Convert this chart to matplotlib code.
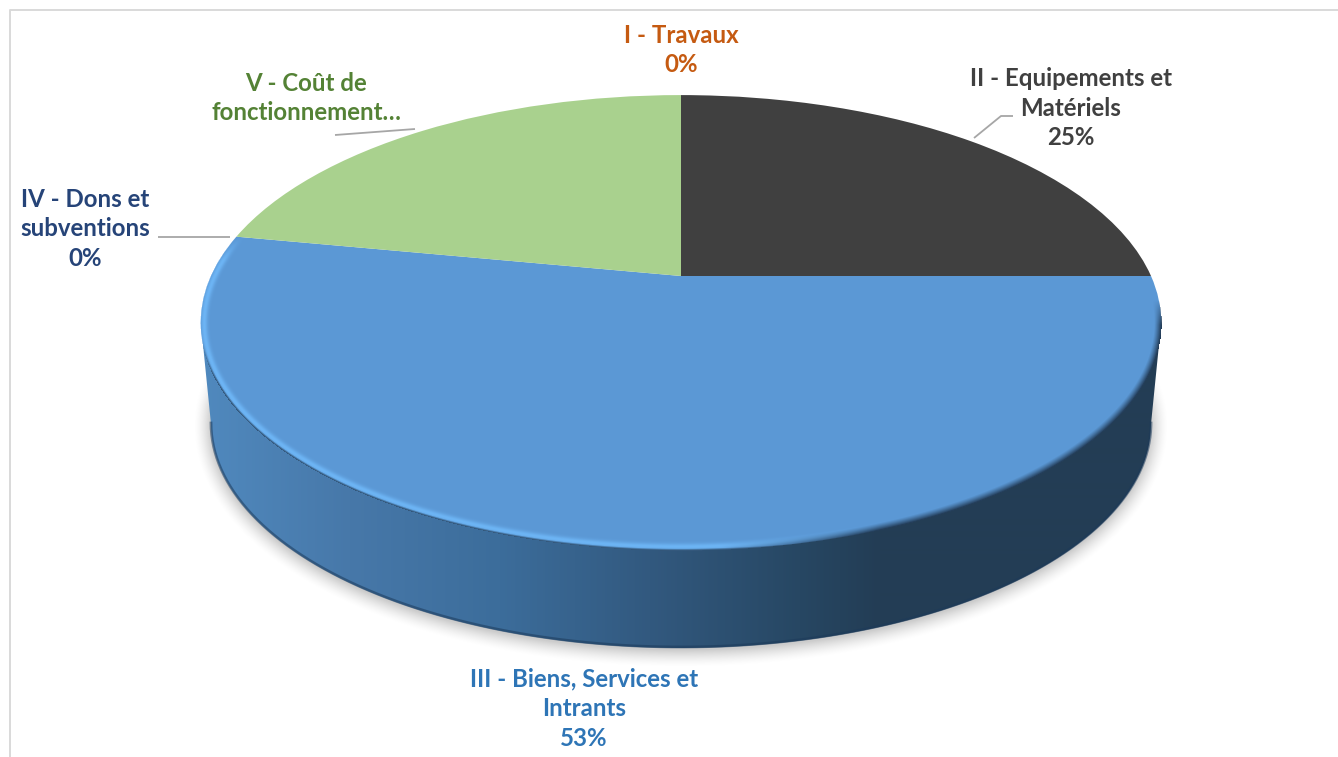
import numpy as np
import matplotlib
matplotlib.use("Agg")
import matplotlib.pyplot as plt
from matplotlib.patches import Polygon
from matplotlib.transforms import Transform

# ---------- data ----------
categories = ["I - Travaux", "II - Equipements et\nMatériels", "III - Biens, Services et\nIntrants",
              "IV - Dons et\nsubventions", "V - Coût de\nfonctionnement…"]
shares = [0, 25, 53, 0, 22]
show_percent = [True, True, True, True, False]
slice_colors = ["#C55A11", "#404040", "#5B98D5", "#264478", "#A9D18E"]
text_colors = ["#C55A11", "#404040", "#2E75B6", "#264478", "#548235"]

# ---------- layout ----------
W, H = 1338, 757
APEX_X, APEX_Y = 681.0, 276.0   # where the slices meet on screen
SCALE_X, SCALE_Y, TILT = 470.0, 218.0, 0.205
BASE_X, BASE_Y, BASE_RX, BASE_RY = 681.0, 424.0, 470.0, 224.0  # lower rim of the disc
label_xy = [(681, 50), (1071, 108), (584, 709), (85, 229), (306, 98)]
leaders = [([974, 1001, 1013], [138, 116, 116]),
           ([335, 415], [135, 129]),
           ([158, 230], [237, 237])]
wall_stops_x = [203, 350, 500, 650, 800, 880, 1165]
wall_stops_rgb = [(80, 137, 190), (71, 120, 169), (60, 109, 155), (50, 89, 127),
                  (39, 71, 99), (35, 61, 85), (36, 62, 85)]


class Tilted(Transform):
    """Projects the unit-circle pie onto the tilted disc, in pixel coordinates."""
    input_dims = output_dims = 2
    is_separable = False

    def transform_non_affine(self, xy):
        xy = np.asarray(xy, float)
        w = 1 + TILT * xy[:, 1]
        return np.column_stack([APEX_X + SCALE_X * xy[:, 0] / w,
                                APEX_Y - SCALE_Y * xy[:, 1] / w])


tilted = Tilted()
top_rx = SCALE_X / np.sqrt(1 - TILT ** 2)
top_ry = SCALE_Y * (1 / (1 + TILT) + 1 / (1 - TILT)) / 2
top_y = APEX_Y - SCALE_Y * (1 / (1 + TILT) - 1 / (1 - TILT)) / 2
top_x = APEX_X

plt.rcParams["font.family"] = ["Lato", "DejaVu Sans"]
fig = plt.figure(figsize=(W / 100, H / 100), dpi=100, facecolor="white")
ax = fig.add_axes([0, 0, 1, 1])

# slices
wedges, _ = ax.pie(shares, colors=slice_colors, startangle=90, counterclock=False,
                   wedgeprops=dict(linewidth=0, zorder=4))
for wd in wedges:
    wd.set_transform(tilted + ax.transData)

# pixel grid for soft effects
yy, xx = np.mgrid[0:H, 0:W] + 0.5


def signed_dist(cx, cy, rx, ry):
    dx, dy = xx - cx, yy - cy
    r = np.sqrt((dx / rx) ** 2 + (dy / ry) ** 2) + 1e-9
    g = np.sqrt((dx / rx ** 2) ** 2 + (dy / ry ** 2) ** 2) / r + 1e-9
    return (r - 1) / g   # positive outside


# soft shadow below the disc
d_out = signed_dist(BASE_X, BASE_Y + 2, BASE_RX, BASE_RY)
sh = np.clip(1 - d_out / 18, 0, 1) ** 1.6 * np.clip((yy - 335) / 70, 0, 1) * 0.2
shadow = np.zeros((H, W, 4))
shadow[..., 3] = sh
ax.imshow(shadow, extent=(0, W, H, 0), aspect="auto", zorder=1, interpolation="bilinear")

# side wall with its horizontal gradient
xs = np.arange(W) + 0.5
wall = np.stack([np.interp(xs, wall_stops_x, [c[i] for c in wall_stops_rgb]) / 255
                 for i in range(3)], axis=-1)[None, :, :]
wall_im = ax.imshow(wall, extent=(0, W, H, 0), aspect="auto", zorder=2, interpolation="bilinear")
t = np.linspace(np.pi, 0, 240)
bx = BASE_X + BASE_RX * np.cos(t)
by = BASE_Y + BASE_RY * np.sin(t)
outline = np.column_stack([np.r_[top_x - top_rx, bx, top_x + top_rx],
                           np.r_[top_y, by, top_y]])
clip = Polygon(outline, closed=True, transform=ax.transData, facecolor="none", edgecolor="none")
ax.add_patch(clip)
wall_im.set_clip_path(clip)
ax.plot(bx, by - 1, color="#1C3A5A", lw=2, alpha=0.55, zorder=3)

# bevel along the front rim of the disc
d_in = -signed_dist(top_x, top_y, top_rx, top_ry)
cum = np.cumsum(shares) / np.sum(shares) * 2 * np.pi
p = tilted.transform(np.array([[np.sin(cum[1]), np.cos(cum[1])],
                               [np.sin(cum[2]), np.cos(cum[2])]]))
edge_y = np.where(xx > APEX_X,
                  APEX_Y + (xx - APEX_X) * (p[0, 1] - APEX_Y) / (p[0, 0] - APEX_X),
                  APEX_Y + (xx - APEX_X) * (p[1, 1] - APEX_Y) / (p[1, 0] - APEX_X))
front = (yy >= edge_y) & (d_in >= -0.5)
mix = np.clip((880 - xx) / 160, 0, 1)
fade_top = np.clip((yy - edge_y) / 25, 0, 1)
light = np.exp(-((d_in - 3.5) / 3.2) ** 2) * mix * fade_top
dark = np.clip(1 - d_in / 7, 0, 1) ** 1.2 * (1 - mix) * np.clip((yy - 300) / 25, 0, 1)
dark_edge = np.clip(1 - d_in / 1.8, 0, 1) * mix * np.clip((yy - 340) / 40, 0, 1) * 0.8
rim = np.zeros((H, W, 4))
a_light, a_dark = light * 0.95, np.maximum(dark, dark_edge)
total = np.maximum(a_light + a_dark, 1e-6)
for i, (cl, cd) in enumerate(zip((110, 182, 246), (36, 62, 90))):
    rim[..., i] = (cl * a_light + cd * a_dark) / total / 255
rim[..., 3] = np.clip(total, 0, 1) * front
ax.imshow(rim, extent=(0, W, H, 0), aspect="auto", zorder=5, interpolation="bilinear")

# frame of the chart area
ax.plot([9.5, 9.5, W], [H, 9.5, 9.5], color="#D9D9D9", lw=1.4, zorder=0)

# leader lines
for lx, ly in leaders:
    ax.plot(lx, ly, color="#A6A6A6", lw=1.3, zorder=6, solid_capstyle="butt")

# labels
for name, val, show, col, (lx, ly) in zip(categories, shares, show_percent, text_colors, label_xy):
    txt = f"{name}\n{val}%" if show else name
    ax.text(lx, ly, txt, color=col, ha="center", va="center", fontsize=17.3,
            fontweight="bold", linespacing=1.36, zorder=7)

ax.set_xlim(0, W)
ax.set_ylim(H, 0)
ax.set_aspect("auto")
ax.axis("off")
fig.savefig("out.png", dpi=100)
